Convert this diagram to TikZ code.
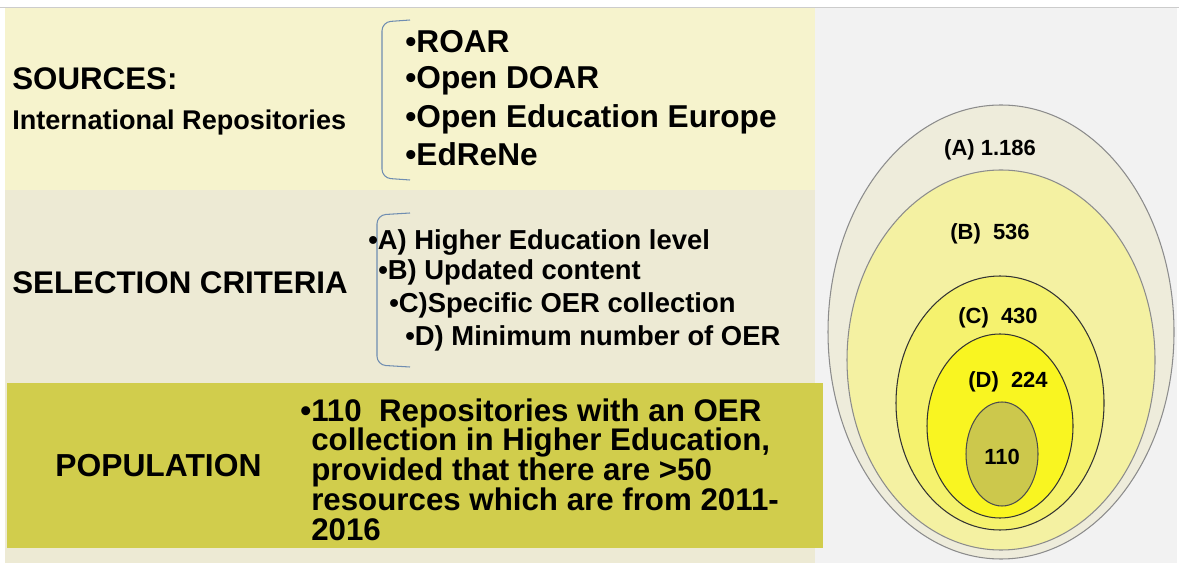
\documentclass[tikz,border=0pt]{standalone}
\usepackage{fontspec}
\setmainfont{Liberation Sans}
\definecolor{paneyellow}{HTML}{F6F3CD}
\definecolor{panebeige}{HTML}{EDEAD4}
\definecolor{paneolive}{HTML}{D1CD4C}
\definecolor{backgrey}{HTML}{F2F2F2}
\definecolor{bracketblue}{HTML}{6F8DB1}
\definecolor{ringa}{HTML}{EEECDB}
\definecolor{ringb}{HTML}{F4F1A2}
\definecolor{ringc}{HTML}{F5F26E}
\definecolor{ringd}{HTML}{F9F521}
\definecolor{ringe}{HTML}{CCC84C}

\begin{document}
\begin{tikzpicture}[x=0.02cm, y=-0.02cm]
      \useasboundingbox (0,0) rectangle (1179,563);
      \fill [white] (0,0) rectangle (1179,563);
      \fill [backgrey] (5,7) rectangle (1177,563);
      \draw [black!20] (0,7) -- (1179,7);
      \fill [paneyellow] (5,8) rectangle (815,190);
      \fill [panebeige] (5,190) rectangle (815,563);
      \fill [paneolive] (7,383) rectangle (823,548);
      \tikzstyle {heading} = [anchor=base west, inner sep=0, font=\fontsize{17.8}{21}\selectfont\bfseries];
      \tikzstyle {listitem} = [anchor=base west, inner sep=0, font=\fontsize{18}{21}\selectfont\bfseries];
      \tikzstyle {criterion} = [anchor=base west, inner sep=0, font=\fontsize{15.6}{18}\selectfont\bfseries];
      \tikzstyle {bracket} = [draw=bracketblue, line width=0.6pt, rounded corners=5];
      \tikzstyle {count} = [inner sep=0, font=\fontsize{12.5}{15}\selectfont\bfseries];
      \node (sources) at (12,90) [heading] {SOURCES:};
      \node (intrepo) at (12,130) [heading, font=\fontsize{15.4}{18}\selectfont\bfseries] {International Repositories};
      \draw [bracket] (410,20) -- (382,22) -- (382,178) -- (410,180);
      \node (roar) at (405,53) [listitem] {•ROAR};
      \node (doar) at (405,89) [listitem] {•Open DOAR};
      \node (oee) at (405,128) [listitem] {•Open Education Europe};
      \node (edrene) at (405,166) [listitem] {•EdReNe};
      \node (selection) at (12,294) [heading] {SELECTION CRITERIA};
      \draw [bracket] (410,213) -- (377,215) -- (377,365) -- (410,367);
      \node (crita) at (368,250) [criterion] {•A) Higher Education level};
      \node (critb) at (378,280) [criterion] {•B) Updated content};
      \node (critc) at (389,313) [criterion] {•C)Specific OER collection};
      \node (critd) at (405,346) [criterion] {•D) Minimum number of OER};
      \node (population) at (55,476) [heading, font=\fontsize{18.1}{21}\selectfont\bfseries] {POPULATION};
      \node (poptext) at (300,398) [anchor=north west, inner sep=0, align=left, font=\fontsize{17.8}{17}\selectfont\bfseries]
        {•110\ \ Repositories with an OER\\ \phantom{•}collection in Higher Education,\\ \phantom{•}provided that there are >50\\ \phantom{•}resources which are from 2011-\\ \phantom{•}2016};
      \draw [fill=ringa, draw=black!45, line width=0.6pt] (1001,332) ellipse [x radius=173, y radius=227];
      \draw [fill=ringb, draw=black!45, line width=0.6pt] (1001,360) ellipse [x radius=154, y radius=190];
      \draw [fill=ringc, draw=black!80, line width=0.6pt] (1000,403) ellipse [x radius=104, y radius=127];
      \draw [fill=ringd, draw=black!80, line width=0.6pt] (1000,426) ellipse [x radius=73, y radius=92];
      \draw [fill=ringe, draw=black!70, line width=0.6pt] (1002,454) ellipse [x radius=36, y radius=52];
      \node (counta) at (990,150) [count] {(A) 1.186};
      \node (countb) at (990,234) [count] {(B)\ \ 536};
      \node (countc) at (998,318) [count] {(C)\ \ 430};
      \node (countd) at (1008,382) [count] {(D)\ \ 224};
      \node (counte) at (1002,457) [count] {110};
\end{tikzpicture}
\end{document}
